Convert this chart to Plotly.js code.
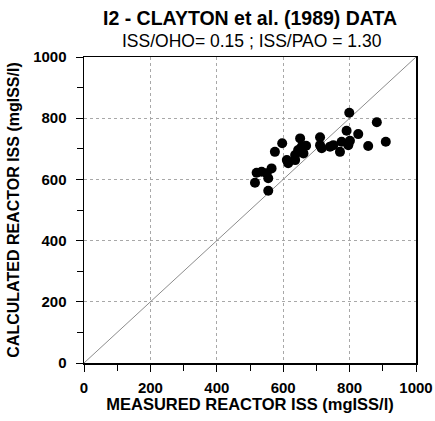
<!DOCTYPE html>
<html>
<head>
<meta charset="utf-8">
<script src="https://cdn.plot.ly/plotly-3.0.1.min.js"></script>
<style>html,body{margin:0;padding:0;background:#fff}</style>
</head>
<body>
<div id="chart" style="width:435px;height:421px"></div>
<script>
var measuredISS = [597, 575, 651, 656, 669, 645, 661, 636, 611, 615, 636, 711, 711, 716, 741, 751, 771, 776, 791, 801, 796, 826, 856, 520, 535, 550, 565, 555, 515, 555, 799, 882, 909];
var calculatedISS = [718, 690, 734, 707, 710, 696, 685, 680, 663, 653, 663, 738, 712, 702, 707, 712, 690, 723, 759, 726, 712, 748, 709, 622, 625, 620, 636, 604, 589, 563, 818, 787, 723];
var lineX = [0, 1000];
var lineY = [0, 1000];
var titleText = "I2 - CLAYTON et al. (1989) DATA";
var subtitleText = "ISS/OHO= 0.15 ; ISS/PAO = 1.30";
var xTitle = "MEASURED REACTOR ISS (mgISS/l)";
var yTitle = "CALCULATED REACTOR ISS (mgISS/l)";

var font = "Arial, 'Liberation Sans', sans-serif";

var traces = [
  {x: lineX, y: lineY, mode: 'lines', line: {color: '#8c8c8c', width: 1}, hoverinfo: 'skip', showlegend: false},
  {x: measuredISS, y: calculatedISS, mode: 'markers', marker: {color: '#000', size: 10, symbol: 'circle'}, showlegend: false}
];

var axisCommon = {
  range: [0, 1000], dtick: 200, tick0: 0,
  showgrid: true, gridcolor: '#a8a8a8', griddash: 'dot', gridwidth: 1,
  zeroline: false, showline: true, linecolor: '#000', linewidth: 1.5, mirror: true,
  ticks: 'outside', ticklen: 7, tickcolor: '#000', tickwidth: 1,
  minor: {dtick: 100, ticks: 'outside', ticklen: 6, tickcolor: '#000', showgrid: false},
  tickfont: {family: font, size: 15, color: '#000', weight: 'bold'},
  fixedrange: true
};

var layout = {
  width: 435, height: 421,
  margin: {l: 84, r: 19, t: 57, b: 58},
  paper_bgcolor: '#fff', plot_bgcolor: '#fff',
  xaxis: Object.assign({}, axisCommon, {ticklabelstandoff: 3, title: {text: xTitle, font: {family: font, size: 16.5, color: '#000', weight: 'bold'}, standoff: 0}}),
  yaxis: Object.assign({}, axisCommon, {ticklabelstandoff: 6, title: {text: yTitle, font: {family: font, size: 16, color: '#000', weight: 'bold'}, standoff: 9}}),
  annotations: [
    {text: titleText, xref: 'paper', yref: 'paper', x: 0.5, y: 1, yshift: 39, xanchor: 'center', yanchor: 'middle', showarrow: false, font: {family: font, size: 19.5, color: '#000', weight: 'bold'}},
    {text: subtitleText, xref: 'paper', yref: 'paper', x: 0.506, y: 1, yshift: 16, xanchor: 'center', yanchor: 'middle', showarrow: false, font: {family: font, size: 17.5, color: '#000'}}
  ]
};

Plotly.newPlot('chart', traces, layout, {displayModeBar: false, staticPlot: true});
</script>
</body>
</html>
